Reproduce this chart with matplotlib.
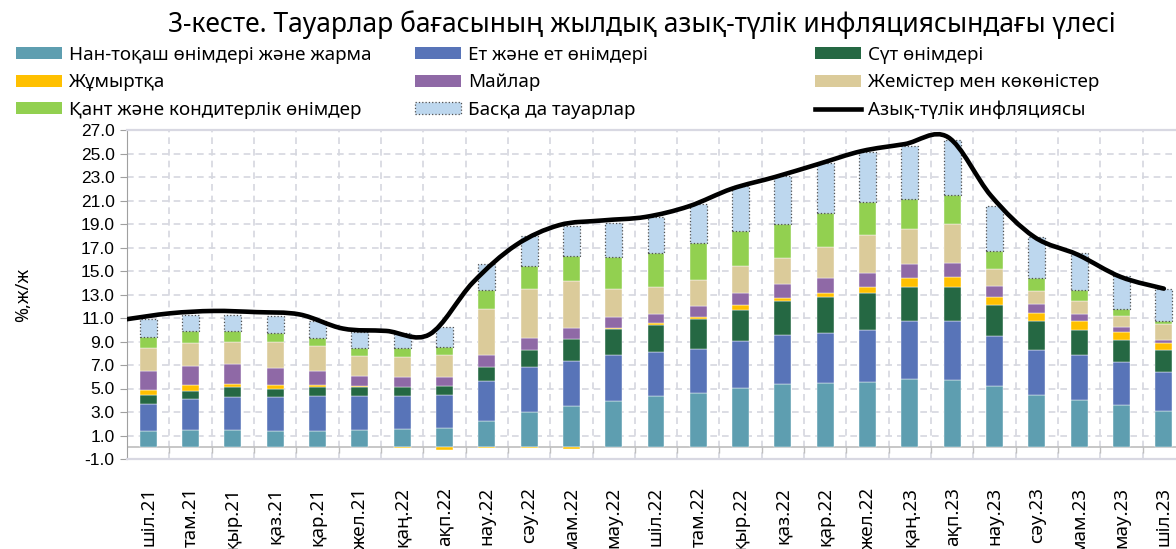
import numpy as np
import matplotlib
matplotlib.use("Agg")
import matplotlib.pyplot as plt
from matplotlib.patches import Patch, PathPatch
from matplotlib.lines import Line2D
from matplotlib.path import Path

months = ["шіл.21", "там.21", "қыр.21", "қаз.21", "қар.21", "жел.21", "қаң.22", "ақп.22",
          "нау.22", "сәу.22", "мам.22", "мау.22", "шіл.22", "там.22", "қыр.22", "қаз.22",
          "қар.22", "жел.22", "қаң.23", "ақп.23", "нау.23", "сәу.23", "мам.23", "мау.23", "шіл.23"]

bread = [1.35, 1.46, 1.46, 1.40, 1.40, 1.46, 1.55, 1.63, 2.26, 2.99, 3.48, 3.96, 4.33,
         4.61, 5.04, 5.38, 5.46, 5.57, 5.83, 5.74, 5.18, 4.44, 3.99, 3.59, 3.11]
meat = [2.35, 2.61, 2.81, 2.87, 2.95, 2.92, 2.80, 2.81, 3.40, 3.80, 3.85, 3.91, 3.74,
        3.77, 4.02, 4.14, 4.23, 4.40, 4.94, 5.00, 4.31, 3.86, 3.85, 3.66, 3.32]
dairy = [0.74, 0.74, 0.82, 0.71, 0.80, 0.77, 0.74, 0.74, 1.19, 1.51, 1.85, 2.16, 2.33,
         2.53, 2.64, 2.89, 3.06, 3.15, 2.89, 2.92, 2.61, 2.44, 2.10, 1.90, 1.81]
eggs = [0.45, 0.45, 0.31, 0.28, 0.17, 0.08, -0.03, -0.20, -0.05, -0.05, -0.17, 0.14, 0.14,
        0.14, 0.37, 0.29, 0.40, 0.51, 0.77, 0.82, 0.65, 0.68, 0.80, 0.68, 0.60]
oils = [1.62, 1.65, 1.68, 1.48, 1.19, 0.86, 0.85, 0.76, 0.97, 0.96, 0.96, 0.88, 0.82,
        0.94, 1.08, 1.16, 1.22, 1.22, 1.19, 1.19, 0.99, 0.79, 0.62, 0.43, 0.31]
fruit_veg = [1.93, 1.93, 1.84, 2.18, 2.10, 1.64, 1.76, 1.93, 3.97, 4.23, 4.03, 2.44, 2.27,
             2.24, 2.30, 2.24, 2.64, 3.21, 2.92, 3.35, 1.45, 1.11, 1.11, 0.93, 1.33]
sugar = [0.96, 1.02, 0.97, 0.82, 0.71, 0.68, 0.71, 0.68, 1.61, 1.90, 2.13, 2.70, 2.89,
         3.15, 2.98, 2.92, 2.89, 2.83, 2.55, 2.44, 1.48, 1.11, 0.91, 0.54, 0.23]
other = [1.51, 1.42, 1.39, 1.39, 1.42, 1.39, 1.31, 1.68, 2.19, 2.55, 2.55, 2.89, 3.07,
         3.32, 3.77, 4.03, 4.28, 4.28, 4.56, 4.71, 3.83, 3.46, 3.14, 2.87, 2.78]
food_infl = [10.9, 11.4, 11.6, 11.5, 11.3, 10.1, 9.9, 9.6, 14.0, 17.2, 18.9, 19.3, 19.6,
             20.5, 22.0, 23.0, 24.1, 25.2, 25.8, 26.4, 21.4, 17.9, 16.4, 14.5, 13.5]

names = ["Нан-тоқаш өнімдері және жарма", "Ет және ет өнімдері", "Сүт өнімдері",
         "Жұмыртқа", "Майлар", "Жемістер мен көкөністер",
         "Қант және кондитерлік өнімдер", "Басқа да тауарлар"]
line_name = "Азық-түлік инфляциясы"
colors = ["#5E9EB0", "#5874B8", "#256843", "#FFC000", "#8F69A6", "#DBCB9A", "#92D050", "#BDD7EE"]
series = [bread, meat, dairy, eggs, oils, fruit_veg, sugar, other]

plt.rcParams['font.family'] = ['Noto Sans', 'DejaVu Sans']

fig = plt.figure(figsize=(11.76, 5.49), dpi=100)
ax = fig.add_axes([127 / 1176, 90 / 549, (1185 - 127) / 1176, (459 - 130) / 549])

x = np.arange(len(months))
pos = np.zeros(len(months))
neg = np.zeros(len(months))
handles = []
for vals, col, name in zip(series, colors, names):
    v = np.array(vals)
    bottom = np.where(v >= 0, pos, neg)
    if name == "Басқа да тауарлар":
        ax.bar(x, v, 0.4, bottom=bottom, color=col, edgecolor="#505050", linestyle=":",
               linewidth=0.9, zorder=3)
        handles.append(Patch(facecolor=col, edgecolor="#505050", linestyle=":", linewidth=0.9, label=name))
    else:
        ax.bar(x, v, 0.4, bottom=bottom, color=col, edgecolor="white", linewidth=0.3, zorder=3)
        handles.append(Patch(facecolor=col, label=name))
    pos += np.where(v >= 0, v, 0)
    neg += np.where(v < 0, v, 0)

# smoothed line (excel style), spread from left edge to the last bar
lx = np.linspace(-0.5, len(months) - 1, len(months))
pts = np.column_stack([lx, food_infl])
ext = np.vstack([pts[0], pts, pts[-1]])
verts = [pts[0]]
codes = [Path.MOVETO]
for i in range(len(pts) - 1):
    p0, p1, p2, p3 = ext[i], ext[i + 1], ext[i + 2], ext[i + 3]
    verts += [p1 + (p2 - p0) / 6, p2 - (p3 - p1) / 6, p2]
    codes += [Path.CURVE4] * 3
ax.add_patch(PathPatch(Path(verts, codes), fill=False, lw=3.3, edgecolor="black",
                       capstyle="round", joinstyle="round", zorder=5))
handles.append(Line2D([], [], color="black", lw=3.3, label=line_name))

ax.set_xlim(-0.5, len(months) - 0.5)
ax.set_ylim(-1, 27)
yt = np.arange(-1, 28, 2)
ax.set_yticks(yt)
ax.set_yticklabels(["%.1f" % t for t in yt], fontsize=12.5,
                   family=['Liberation Sans Narrow', 'Liberation Sans', 'DejaVu Sans'])
ax.tick_params(axis="y", length=5, color="#A0A0A0", pad=4)
ax.set_xticks(x)
ax.set_xticklabels(months, rotation=90, fontsize=13.5)
ax.tick_params(axis="x", length=0, pad=20)

ax.grid(axis="y", color="#D5D7DF", linestyle=(0, (4, 3)), lw=1.2, zorder=0)
for b in np.arange(0.5, len(months) - 1, 1):
    ax.axvline(b, color="#D5D7DF", linestyle=(0, (4, 3)), lw=1.2, zorder=0)
ax.axhline(0, color="#BEBEBE", lw=1.2, zorder=2)
ax.vlines(np.arange(0.5, len(months) - 1, 1), -0.45, 0, color="#BEBEBE", lw=1.0, zorder=2)

for s in ["top", "bottom"]:
    ax.spines[s].set_color("#D8D8E2")
    ax.spines[s].set_linewidth(1.6)
ax.spines["left"].set_color("#A0A0A0")
ax.spines["right"].set_visible(False)

ax.set_ylabel("%,ж/ж", fontsize=13, labelpad=8)
ax.yaxis.set_label_coords(-0.09, 0.5)

fig.text(0.5455, 0.955, "3-кесте. Тауарлар бағасының жылдық азық-түлік инфляциясындағы үлесі",
         ha="center", va="center", fontsize=19)

# legend: excel fills rows, so one legend per column
cols_x = [16 / 1176, 415 / 1176, 815 / 1176]
for c in range(3):
    hs = handles[c::3]
    fig.legend(handles=hs, loc="upper left", bbox_to_anchor=(cols_x[c], 1 - 46 / 549),
               ncol=1, frameon=False, fontsize=13.5, handlelength=2.45, handleheight=0.6,
               handletextpad=0.38, labelspacing=0.5, borderpad=0, borderaxespad=0)

fig.savefig("out.png", dpi=100)
